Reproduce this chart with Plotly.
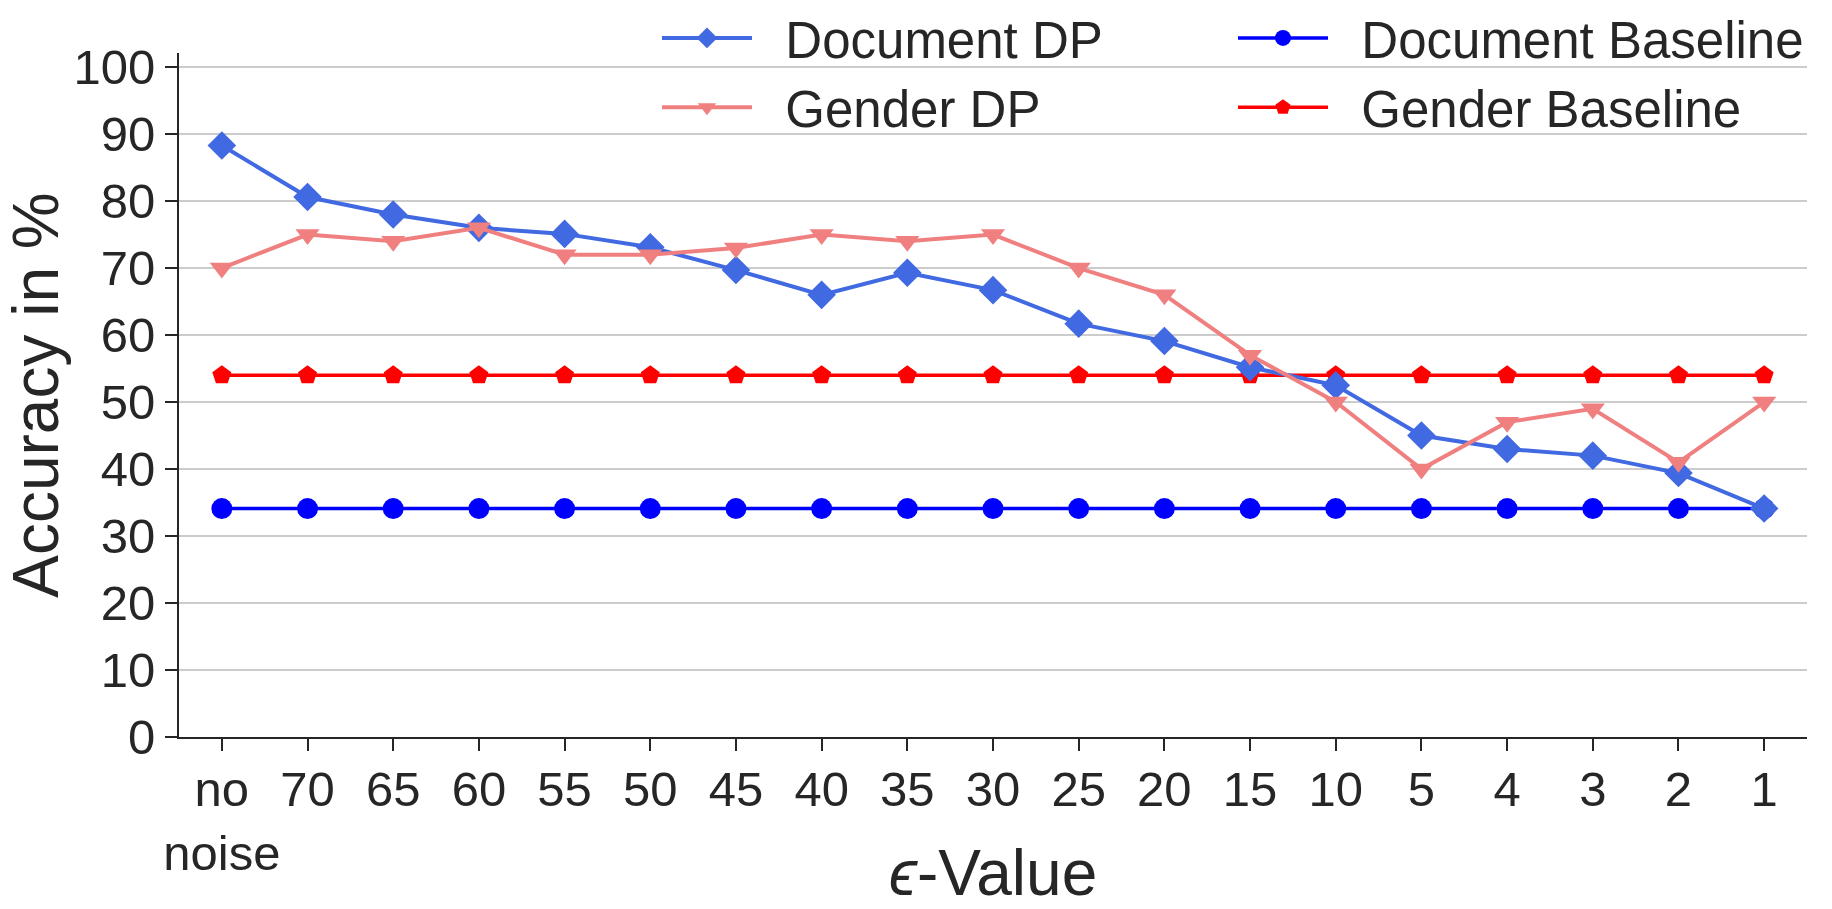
import plotly.graph_objects as go

categories = ["no<br>noise", "70", "65", "60", "55", "50", "45", "40", "35", "30",
              "25", "20", "15", "10", "5", "4", "3", "2", "1"]
document_dp = [88.3, 80.6, 78.0, 76.0, 75.1, 73.1, 69.7, 66.0, 69.3, 66.7,
               61.7, 59.1, 55.2, 52.5, 45.0, 43.0, 42.0, 39.4, 34.1]
gender_dp = [70.0, 75.0, 74.0, 76.0, 72.0, 72.0, 73.0, 75.0, 74.0, 75.0,
             70.0, 66.0, 57.0, 50.0, 40.0, 47.0, 49.0, 41.0, 50.0]
document_baseline = [34.1, 34.1, 34.1, 34.1, 34.1, 34.1, 34.1, 34.1, 34.1, 34.1,
                     34.1, 34.1, 34.1, 34.1, 34.1, 34.1, 34.1, 34.1, 34.1]
gender_baseline = [54.0, 54.0, 54.0, 54.0, 54.0, 54.0, 54.0, 54.0, 54.0, 54.0,
                   54.0, 54.0, 54.0, 54.0, 54.0, 54.0, 54.0, 54.0, 54.0]
y_ticks = [0, 10, 20, 30, 40, 50, 60, 70, 80, 90, 100]

FONT = "Liberation Sans, Arial, sans-serif"
TXT = "#262626"
PAD = "\u00a0\u00a0"

fig = go.Figure()
fig.add_trace(go.Scatter(x=categories, y=document_baseline, name=PAD + "Document Baseline",
                         mode="lines+markers", legendrank=2,
                         line=dict(color="#0000FF", width=3.5),
                         marker=dict(symbol="circle", size=21, color="#0000FF")))
fig.add_trace(go.Scatter(x=categories, y=gender_baseline, name=PAD + "Gender Baseline",
                         mode="lines+markers", legendrank=4,
                         line=dict(color="#FF0000", width=3.5),
                         marker=dict(symbol="pentagon", size=20, color="#FF0000")))
fig.add_trace(go.Scatter(x=categories, y=document_dp, name=PAD + "Document DP",
                         mode="lines+markers", legendrank=1,
                         line=dict(color="#4169E1", width=4),
                         marker=dict(symbol="diamond", size=22, color="#4169E1")))
fig.add_trace(go.Scatter(x=categories, y=gender_dp, name=PAD + "Gender DP",
                         mode="lines+markers", legendrank=3,
                         line=dict(color="#F08080", width=4),
                         marker=dict(symbol="triangle-down", size=21, color="#F08080")))

fig.update_layout(
    width=1832, height=909,
    margin=dict(l=179, r=25, t=53, b=172, autoexpand=False),
    paper_bgcolor="white", plot_bgcolor="white",
    font=dict(family=FONT, size=50, color=TXT),
    showlegend=True,
    legend=dict(orientation="h", x=0.2936, y=1.080, xanchor="left", yanchor="top",
                bgcolor="rgba(0,0,0,0)", font=dict(size=51, color=TXT),
                itemwidth=90, entrywidth=471, entrywidthmode="pixels",
                traceorder="normal"),
    xaxis=dict(type="category", range=[-0.5, 18.5], showgrid=False,
               showline=True, linecolor=TXT, linewidth=2,
               ticks="outside", ticklen=12, tickwidth=2, tickcolor=TXT,
               tickangle=0, ticklabelstandoff=-4,
               tickfont=dict(size=49, color=TXT),
               title=dict(text="<i>ϵ</i>-Value", font=dict(size=64, color=TXT), standoff=10),
               zeroline=False, automargin=False),
    yaxis=dict(range=[0, 102.1], tickvals=y_ticks, showgrid=True,
               gridcolor="#CCCCCC", gridwidth=1.5,
               showline=True, linecolor=TXT, linewidth=2,
               ticks="outside", ticklen=12, tickwidth=2, tickcolor=TXT,
               tickfont=dict(size=49, color=TXT), ticklabelstandoff=0,
               title=dict(text="Accuracy in %", font=dict(size=64, color=TXT), standoff=40),
               zeroline=False, automargin=False),
)

fig.write_html("out.html")
